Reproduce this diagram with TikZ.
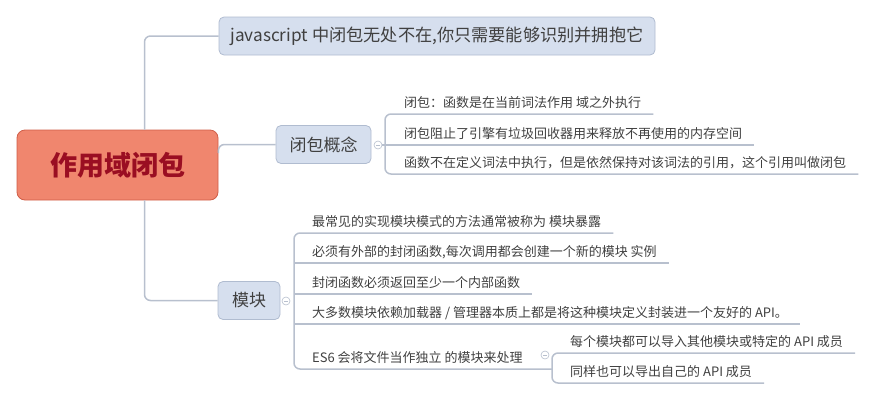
\documentclass[tikz,border=0pt]{standalone}
\usepackage{fontspec}
\setmainfont{Noto Sans CJK SC}
\definecolor{linec}{HTML}{B8C0CE}
\definecolor{boxfill}{HTML}{D6DFEE}
\definecolor{boxline}{HTML}{B0BCD0}
\definecolor{rootfill}{HTML}{F0866E}
\definecolor{rootline}{HTML}{D05E48}
\definecolor{roottext}{HTML}{9A0E22}
\definecolor{textc}{HTML}{404040}
\begin{document}
\begin{tikzpicture}[x=1pt,y=-1pt,
    rootbox/.style={draw=rootline,fill=rootfill,rounded corners=8pt,line width=0.8pt,
      minimum width=201pt,minimum height=70pt,text=roottext,
      font=\fontsize{27}{30}\selectfont\bfseries},
    topic/.style={draw=boxline,fill=boxfill,rounded corners=5pt,line width=0.8pt,
      minimum height=38pt,text=textc,font=\fontsize{17}{20}\selectfont},
    leaf/.style={anchor=base west,inner sep=0pt,text=textc,
      font=\fontsize{13}{15}\selectfont},
    branch/.style={draw=linec,line width=1.5pt,rounded corners=6pt},
    fold/.style={circle,draw=linec,fill=white,line width=0.6pt,inner sep=0pt,
      minimum size=8pt,path picture={\draw[linec,line width=0.8pt]
        ([xshift=-2pt]path picture bounding box.center) -- ++(4pt,0);}}]
  \useasboundingbox (0,0) rectangle (875,400);

  % main topics
  \node[rootbox] (root) at (117.5,165) {作用域闭包};
  \node[topic,minimum width=436pt,font=\fontsize{17.2}{20}\selectfont] (js) at (437,36)
    {javascript 中闭包无处不在,你只需要能够识别并拥抱它};
  \node[topic,minimum width=95pt] (concept) at (323.5,144.5) {闭包概念};
  \node[topic,minimum width=62pt] (mod) at (249,300.5) {模块};

  \draw[branch] ([xshift=27pt]root.north) |- (js.west);
  \draw[branch] ([yshift=12pt]root.east) |- (concept.west);
  \draw[branch] ([xshift=27pt]root.south) |- (mod.west);

  % 闭包概念
  \node[fold] (fold1) at (378,145) {};
  \node[leaf] (c1) at (404,107) {闭包：函数是在当前词法作用 域之外执行};
  \node[leaf] (c2) at (404,138) {闭包阻止了引擎有垃圾回收器用来释放不再使用的内存空间};
  \node[leaf] (c3) at (404,167) {函数不在定义词法中执行，但是依然保持对该词法的引用，这个引用叫做闭包};
  \draw[branch] ([xshift=12pt,yshift=-7pt]c1.base east) -- ([xshift=-19pt,yshift=-7pt]c1.base west)
    |- ([xshift=12pt,yshift=-7pt]c3.base east);
  \draw[branch] (fold1) -- ([xshift=12pt,yshift=-7pt]c2.base east);

  % 模块
  \node[fold] (fold2) at (286,301) {};
  \node[leaf] (m1) at (312,226) {最常见的实现模块模式的方法通常被称为 模块暴露};
  \node[leaf] (m2) at (312,256) {必须有外部的封闭函数,每次调用都会创建一个新的模块 实例};
  \node[leaf] (m3) at (312,287) {封闭函数必须返回至少一个内部函数};
  \node[leaf] (m4) at (312,317) {大多数模块依赖加载器 / 管理器本质上都是将这种模块定义封装进一个友好的 API。};
  \node[leaf] (m5) at (312,362) {ES6 会将文件当作独立 的模块来处理};
  \node[fold] (fold3) at (545,355) {};
  \node[leaf] (s1) at (570,346) {每个模块都可以导入其他模块或特定的 API 成员};
  \node[leaf] (s2) at (570,376) {同样也可以导出自己的 API 成员};
  \coordinate (m5u) at ([yshift=-7pt]m5.base west);
  \coordinate (sub) at ([xshift=-18pt,yshift=-7pt]s1.base west);

  \draw[branch] ([xshift=12pt,yshift=-7pt]m1.base east) -- ([xshift=-18pt,yshift=-7pt]m1.base west)
    |- (sub |- m5u);
  \draw[branch] ([xshift=-18pt,yshift=-7pt]m2.base west) -- ([xshift=12pt,yshift=-7pt]m2.base east);
  \draw[branch] ([xshift=-18pt,yshift=-7pt]m3.base west) -- ([xshift=12pt,yshift=-7pt]m3.base east);
  \draw[branch] ([xshift=-18pt,yshift=-7pt]m4.base west) -- ([xshift=12pt,yshift=-7pt]m4.base east);
  \draw[branch] ([xshift=12pt,yshift=-7pt]s1.base east) -- (sub)
    |- ([xshift=12pt,yshift=-7pt]s2.base east);
\end{tikzpicture}
\end{document}
